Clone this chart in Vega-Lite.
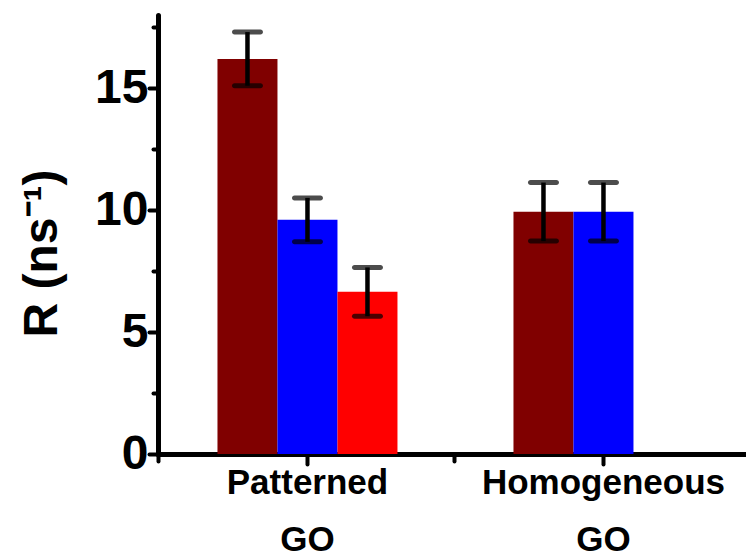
{
  "$schema": "https://vega.github.io/schema/vega-lite/v6.json",
  "width": 588,
  "height": 439,
  "autosize": {"type": "none"},
  "padding": {"left": 158, "top": 15, "right": 0, "bottom": 101},
  "background": "white",
  "config": {
    "view": {"stroke": null},
    "font": "Liberation Sans",
    "axis": {"grid": false, "domainColor": "black", "tickColor": "black", "labelColor": "black", "titleColor": "black", "domainWidth": 5, "tickWidth": 4, "domainCap": "round", "tickCap": "round"}
  },
  "data": {
    "values": [
      {"group": "Patterned GO", "series": "A", "R": 16.2, "err": 1.1},
      {"group": "Patterned GO", "series": "B", "R": 9.6, "err": 0.9},
      {"group": "Patterned GO", "series": "C", "R": 6.65, "err": 1.0},
      {"group": "Homogeneous GO", "series": "A", "R": 9.93, "err": 1.2},
      {"group": "Homogeneous GO", "series": "B", "R": 9.93, "err": 1.2}
    ]
  },
  "encoding": {
    "y": {
      "field": "R",
      "type": "quantitative",
      "scale": {"domain": [0, 18], "nice": false, "zero": true},
      "axis": {
        "values": [0, 2.5, 5, 7.5, 10, 12.5, 15, 17.5],
        "labelExpr": "datum.value % 5 === 0 ? format(datum.value, 'd') : ''",
        "tickSize": {"condition": {"test": "datum.value % 5 === 0", "value": 9}, "value": 5},
        "tickWidth": 4,
        "domainWidth": 5,
        "labelFontSize": 48,
        "labelFontWeight": "bold",
        "labelPadding": 1,
        "title": "R (ns⁻¹)",
        "titleFontSize": 48,
        "titleFontWeight": "bold",
        "titleAngle": -90,
        "titleAlign": "center",
        "titleBaseline": "middle",
        "titleX": -116,
        "titleY": 238
      }
    },
    "xOffset": {
      "field": "series",
      "type": "nominal",
      "scale": {"domain": ["A", "B", "C"], "paddingInner": 0, "paddingOuter": 0}
    }
  },
  "layer": [
    {
      "mark": {"type": "bar"},
      "encoding": {
        "x": {
          "field": "group",
          "type": "nominal",
          "sort": ["Patterned GO", "Homogeneous GO"],
          "scale": {"domain": ["Patterned GO", "Homogeneous GO"], "paddingInner": 0.3919, "paddingOuter": 0.1892, "align": 0.531},
          "axis": {
            "orient": "bottom",
            "title": null,
            "labelAngle": 0,
            "domainWidth": 5,
            "ticks": true,
            "tickSize": 10,
            "tickWidth": 4,
            "labelFontSize": 35,
            "labelFontWeight": "bold",
            "labelLimit": 0,
            "labelExpr": "split(datum.label, ' ')",
            "labelLineHeight": 57,
            "labelBaseline": "alphabetic",
            "labelPadding": 29
          }
        },
        "color": {
          "field": "series",
          "type": "nominal",
          "scale": {"domain": ["A", "B", "C"], "range": ["#800000", "#0000FF", "#FF0000"]},
          "legend": null
        }
      }
    },
    {
      "mark": {
        "type": "errorbar",
        "color": "black",
        "rule": {"strokeWidth": 4.5, "color": "black"},
        "ticks": {"size": 31, "thickness": 5, "color": "black", "cornerRadius": 2.5}
      },
      "encoding": {
        "x": {
          "field": "group",
          "type": "nominal",
          "sort": ["Patterned GO", "Homogeneous GO"],
          "scale": {"domain": ["Patterned GO", "Homogeneous GO"], "paddingInner": 0.3919, "paddingOuter": 0.1892, "align": 0.531},
          "axis": {
            "orient": "bottom",
            "title": null,
            "labels": false,
            "domain": false,
            "bandPosition": 0.5,
            "tickOffset": -149,
            "tickSize": 7,
            "tickWidth": 4
          }
        },
        "yError": {"field": "err"}
      }
    }
  ],
  "resolve": {"axis": {"x": "independent"}}
}
